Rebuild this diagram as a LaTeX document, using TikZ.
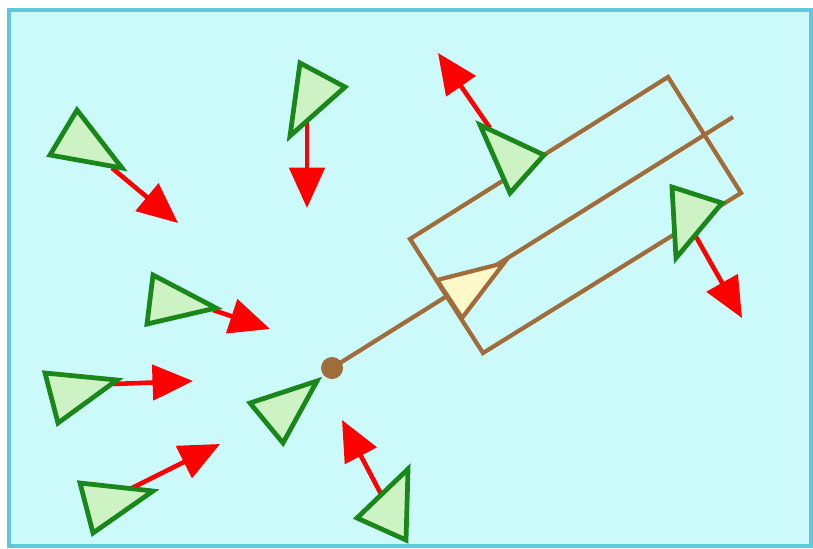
\documentclass[tikz,border=0pt]{standalone}
\usepackage{tikz}
\usetikzlibrary{arrows.meta}

\definecolor{sky}{RGB}{204,250,250}
\definecolor{skyline}{RGB}{95,200,220}
\definecolor{leaf}{RGB}{205,242,195}
\definecolor{leafline}{RGB}{25,135,25}
\definecolor{wood}{RGB}{160,108,58}
\definecolor{cream}{RGB}{255,248,200}

\begin{document}
\begin{tikzpicture}[
  x=0.01cm, y=-0.01cm,
  frame/.style={draw=skyline,fill=sky,line width=1.2pt},
  agent/.style={draw=leafline,fill=leaf,line width=1.35pt},
  push/.style={draw=red,line width=1.3pt,-{Triangle[length=11.5pt,width=10pt]}},
  rod/.style={draw=wood,line width=1.2pt},
  leader/.style={draw=wood,fill=cream,line width=1.2pt},
]
  \useasboundingbox (0,0) rectangle (813,548);
  \draw[frame] (9,10) rectangle (811,546);

  % the stick with its box
  \draw[rod] (410,239) -- (668,77) -- (741,193) -- (483,353) -- cycle;
  \draw[rod] (332,368) -- (733,117);

  % velocity arrows
  \foreach \sx/\sy/\tx/\ty in {112/168/178/223, 307/122/307/208, 490/128/438/53,
      695/235/742/318, 213/310/270/329, 113/384/193/381, 132/488/220/444, 381/494/342/420}
    \draw[push] (\sx,\sy) -- (\tx,\ty);

  % the herd
  \foreach \ax/\ay/\bx/\by/\cx/\cy in {77/110/50/155/122/168, 300/63/290/136/345/87,
      480/125/510/193/544/155, 672/187/676/258/722/203, 153/275/147/324/216/308,
      45/373/58/423/117/380, 80/483/93/533/153/491, 250/403/283/443/317/381,
      408/469/406/540/357/518}
    \draw[agent] (\ax,\ay) -- (\bx,\by) -- (\cx,\cy) -- cycle;

  \draw[leader] (437,280) -- (462,318) -- (504,263) -- cycle;
  \fill[wood] (332,368) circle (11);
\end{tikzpicture}
\end{document}
